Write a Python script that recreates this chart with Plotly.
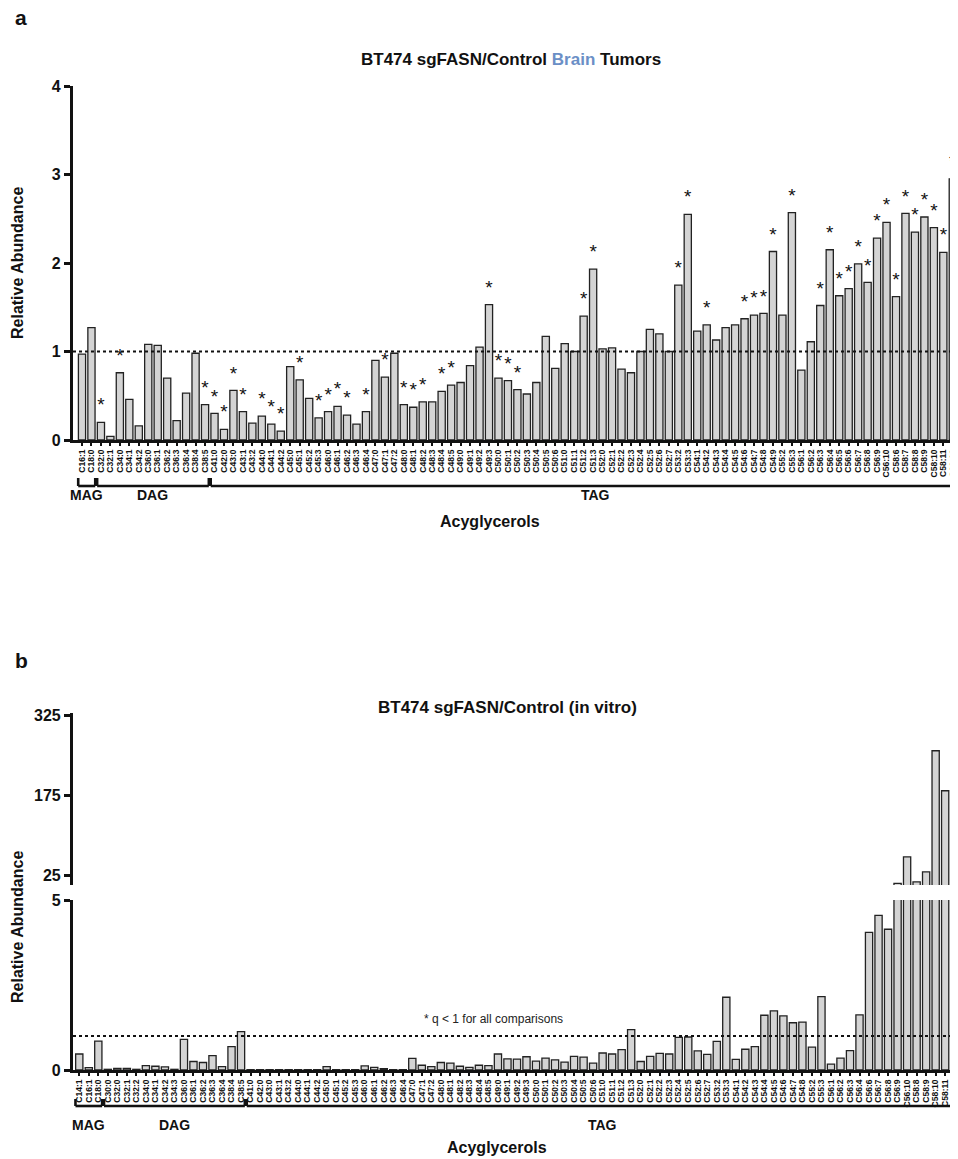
import plotly.graph_objects as go

# ---------------- data ----------------
cats_a = ["C16:1", "C18:0", "C32:0", "C32:1", "C34:0", "C34:1", "C34:2", "C36:0", "C36:1", "C36:2",
          "C36:3", "C36:4", "C38:4", "C38:5", "C41:0", "C42:0", "C43:0", "C43:1", "C43:2", "C44:0",
          "C44:1", "C44:2", "C45:0", "C45:1", "C45:2", "C45:3", "C46:0", "C46:1", "C46:2", "C46:3",
          "C46:4", "C47:0", "C47:1", "C47:2", "C48:0", "C48:1", "C48:2", "C48:3", "C48:4", "C48:5",
          "C49:0", "C49:1", "C49:2", "C49:3", "C50:0", "C50:1", "C50:2", "C50:3", "C50:4", "C50:5",
          "C50:6", "C51:0", "C51:1", "C51:2", "C51:3", "C52:0", "C52:1", "C52:2", "C52:3", "C52:4",
          "C52:5", "C52:6", "C52:7", "C53:2", "C53:3", "C54:1", "C54:2", "C54:3", "C54:4", "C54:5",
          "C54:6", "C54:7", "C54:8", "C54:9", "C55:2", "C55:3", "C56:1", "C56:2", "C56:3", "C56:4",
          "C56:5", "C56:6", "C56:7", "C56:8", "C56:9", "C56:10", "C58:6", "C58:7", "C58:8", "C58:9",
          "C58:10", "C58:11", "C60:12"]
vals_a = [0.97, 1.27, 0.20, 0.04, 0.76, 0.46, 0.16, 1.08, 1.07, 0.70,
          0.22, 0.53, 0.98, 0.40, 0.30, 0.12, 0.56, 0.32, 0.19, 0.27,
          0.18, 0.10, 0.83, 0.68, 0.47, 0.25, 0.32, 0.38, 0.28, 0.18,
          0.32, 0.90, 0.71, 0.98, 0.40, 0.37, 0.43, 0.43, 0.55, 0.62,
          0.65, 0.84, 1.05, 1.53, 0.70, 0.67, 0.57, 0.52, 0.65, 1.17,
          0.81, 1.09, 1.00, 1.40, 1.93, 1.03, 1.04, 0.80, 0.76, 1.00,
          1.25, 1.20, 1.00, 1.75, 2.55, 1.23, 1.30, 1.13, 1.27, 1.30,
          1.37, 1.41, 1.43, 2.13, 1.41, 2.57, 0.79, 1.11, 1.52, 2.15,
          1.63, 1.71, 1.99, 1.78, 2.28, 2.46, 1.62, 2.56, 2.35, 2.52,
          2.40, 2.12, 2.95]
sig_a = [0, 0, 1, 0, 1, 0, 0, 0, 0, 0,
         0, 0, 0, 1, 1, 1, 1, 1, 0, 1,
         1, 1, 0, 1, 0, 1, 1, 1, 1, 0,
         1, 0, 1, 0, 1, 1, 1, 0, 1, 1,
         0, 0, 0, 1, 1, 1, 1, 0, 0, 0,
         0, 0, 0, 1, 1, 0, 0, 0, 0, 0,
         0, 0, 0, 1, 1, 0, 1, 0, 0, 0,
         1, 1, 1, 1, 0, 1, 0, 0, 1, 1,
         1, 1, 1, 1, 1, 1, 1, 1, 1, 1,
         1, 1, 1]
groups_a = [("MAG", 0, 1), ("DAG", 2, 13), ("TAG", 14, 92)]

cats_b = ["C14:1", "C16:1", "C18:0", "C30:0", "C32:0", "C32:1", "C32:2", "C34:0", "C34:1", "C34:2",
          "C34:3", "C36:0", "C36:1", "C36:2", "C36:3", "C36:4", "C38:4", "C38:5", "C41:0", "C42:0",
          "C43:0", "C43:1", "C43:2", "C44:0", "C44:1", "C44:2", "C45:0", "C45:1", "C45:2", "C45:3",
          "C46:0", "C46:1", "C46:2", "C46:3", "C46:4", "C47:0", "C47:1", "C47:2", "C48:0", "C48:1",
          "C48:2", "C48:3", "C48:4", "C48:5", "C49:0", "C49:1", "C49:2", "C49:3", "C50:0", "C50:1",
          "C50:2", "C50:3", "C50:4", "C50:5", "C50:6", "C51:0", "C51:1", "C51:2", "C51:3", "C52:0",
          "C52:1", "C52:2", "C52:3", "C52:4", "C52:5", "C52:6", "C52:7", "C53:2", "C53:3", "C54:1",
          "C54:2", "C54:3", "C54:4", "C54:5", "C54:6", "C54:7", "C54:8", "C55:2", "C55:3", "C56:1",
          "C56:2", "C56:3", "C56:4", "C56:6", "C56:7", "C56:8", "C56:9", "C56:10", "C58:8", "C58:9",
          "C58:10", "C58:11", "C60:12"]
vals_b = [0.47, 0.07, 0.85, 0.02, 0.05, 0.05, 0.02, 0.13, 0.11, 0.09,
          0.02, 0.90, 0.25, 0.22, 0.42, 0.10, 0.69, 1.13, 0.01, 0.01,
          0.01, 0.01, 0.01, 0.01, 0.01, 0.01, 0.10, 0.01, 0.01, 0.01,
          0.12, 0.08, 0.04, 0.01, 0.01, 0.34, 0.14, 0.10, 0.22, 0.20,
          0.11, 0.08, 0.14, 0.13, 0.47, 0.33, 0.32, 0.39, 0.26, 0.35,
          0.30, 0.23, 0.40, 0.38, 0.20, 0.50, 0.47, 0.60, 1.19, 0.25,
          0.40, 0.49, 0.47, 0.96, 0.97, 0.56, 0.46, 0.84, 2.14, 0.31,
          0.61, 0.69, 1.61, 1.74, 1.59, 1.39, 1.41, 0.67, 2.16, 0.17,
          0.35, 0.57, 1.62, 4.05, 4.55, 4.14, 9.4, 59.0, 12.0, 31.0,
          258.0, 183.0, 230.0]
groups_b = [("MAG", 0, 2), ("DAG", 3, 17), ("TAG", 18, 92)]

title_a = "BT474 sgFASN/Control <span style='color:#6b8fc6'>Brain</span> Tumors"
title_b = "BT474 sgFASN/Control (in vitro)"
note_b = "* q < 1 for all comparisons"

# ---------------- layout helpers ----------------
PAGE_W, PAGE_H = 958, 1159
OFF = 8                       # default body margin of the html page
W, H = PAGE_W - OFF, PAGE_H - OFF
FONT = "Liberation Sans, Arial, Helvetica, sans-serif"
BAR_FILL = "#d4d4d4"
INK = "#111111"
STAR_PAD = 0.07               # gap between bar top and asterisk (data units)


def py(px):
    """page pixel (from top) -> paper y"""
    return 1 - (px - OFF) / H


def pxx(px):
    """page pixel (from left) -> paper x"""
    return (px - OFF) / W


fig = go.Figure()

bar_style = dict(marker=dict(color=BAR_FILL, line=dict(color="#222222", width=1.3)),
                 showlegend=False, hoverinfo="x+y")

fig.add_trace(go.Bar(x=cats_a, y=vals_a, xaxis="x", yaxis="y", **bar_style))
star_x = [c for c, s in zip(cats_a, sig_a) if s]
star_y = [v + STAR_PAD for v, s in zip(vals_a, sig_a) if s]
fig.add_trace(go.Scatter(x=star_x, y=star_y, mode="text", text=["*"] * len(star_x),
                         textposition="top center", xaxis="x", yaxis="y",
                         textfont=dict(family=FONT, size=19, color=INK),
                         showlegend=False, cliponaxis=False, hoverinfo="skip"))
fig.add_trace(go.Bar(x=cats_b, y=vals_b, xaxis="x2", yaxis="y2", **bar_style))
fig.add_trace(go.Bar(x=cats_b, y=vals_b, xaxis="x2", yaxis="y3", **bar_style))

axis_line = dict(showline=True, linecolor=INK, linewidth=3.2, ticks="outside",
                 tickcolor=INK, showgrid=False, zeroline=False, automargin=False)
xtick_font = dict(family=FONT, size=8.5, color=INK, weight="bold")
ytick_font = dict(family=FONT, size=16, color=INK, weight="bold")
x_common = dict(type="category", tickmode="linear", tick0=0, dtick=1, tickangle=-90,
                tickfont=xtick_font, ticklen=3, tickwidth=2, **axis_line)

x_dom = [pxx(73), 1.0]
fig.update_layout(
    width=W, height=H, margin=dict(l=0, r=0, t=0, b=0, autoexpand=False),
    paper_bgcolor="white", plot_bgcolor="white", bargap=0.24,
    xaxis=dict(domain=x_dom, anchor="y", categoryorder="array", categoryarray=cats_a,
               range=[-0.95, 92.55], **x_common),
    yaxis=dict(domain=[py(440), py(86)], anchor="x", range=[0, 4], tickvals=[0, 1, 2, 3, 4],
               tickfont=ytick_font, ticklen=6, tickwidth=3, **axis_line),
    xaxis2=dict(domain=x_dom, anchor="y2", categoryorder="array", categoryarray=cats_b,
                range=[-0.66, 92.35], **x_common),
    yaxis2=dict(domain=[py(1070), py(900)], anchor="x2", range=[0, 5], tickvals=[0, 5],
                tickfont=ytick_font, ticklen=6, tickwidth=3, **axis_line),
    yaxis3=dict(domain=[py(885), py(713)], anchor="x2", range=[6.25, 328.75],
                tickvals=[25, 175, 325], tickfont=ytick_font, ticklen=6, tickwidth=3,
                **axis_line),
)

shapes = []
# dotted reference lines at 1
shapes.append(dict(type="line", xref="x domain", yref="y", x0=0, x1=1, y0=1, y1=1,
                   line=dict(color=INK, width=2.2, dash="dot")))
shapes.append(dict(type="line", xref="x2 domain", yref="y2", x0=0, x1=1, y0=1, y1=1,
                   line=dict(color=INK, width=2.2, dash="dot")))

annotations = []


def add_brackets(groups, xref, y_line, y_top, y_label, tag_x):
    for name, i0, i1 in groups:
        x0, x1 = i0 - 0.4, i1 + 0.4
        ln = dict(color=INK, width=2.6)
        shapes.append(dict(type="line", xref=xref, yref="paper", x0=x0, x1=x1,
                           y0=py(y_line), y1=py(y_line), line=ln))
        shapes.append(dict(type="line", xref=xref, yref="paper", x0=x0, x1=x0,
                           y0=py(y_line), y1=py(y_top), line=ln))
        shapes.append(dict(type="line", xref=xref, yref="paper", x0=x1, x1=x1,
                           y0=py(y_line), y1=py(y_top), line=ln))
        xc = (i0 + i1) / 2 if name != "TAG" else tag_x
        annotations.append(dict(text=name, xref=xref, yref="paper", x=xc, y=py(y_label),
                                showarrow=False, xanchor="center", yanchor="middle",
                                font=dict(family=FONT, size=14, color=INK, weight="bold")))


add_brackets(groups_a, "x", 486, 478, 495, 54.2)
add_brackets(groups_b, "x2", 1106, 1099, 1125, 55.0)

bold = dict(family=FONT, color=INK, weight="bold")


def label(text, x, y, size, angle=0, font=None):
    return dict(text=text, x=pxx(x), y=py(y), xref="paper", yref="paper", showarrow=False,
                xanchor="center", yanchor="middle", textangle=angle,
                font=font if font else dict(size=size, **bold))


annotations += [
    label("a", 21, 17, 21),
    label("b", 21, 660, 21),
    label(title_a, 511, 60, 17),
    label(title_b, 507, 707, 17),
    label("Relative Abundance", 18, 263, 16, -90),
    label("Relative Abundance", 18, 927, 16, -90),
    label("Acyglycerols", 490, 522, 16),
    label("Acyglycerols", 497, 1147, 16),
    label(note_b, 493, 1019, 12, font=dict(family=FONT, size=12, color="#222222")),
]

fig.update_layout(shapes=shapes, annotations=annotations)
fig.write_html("out.html")
